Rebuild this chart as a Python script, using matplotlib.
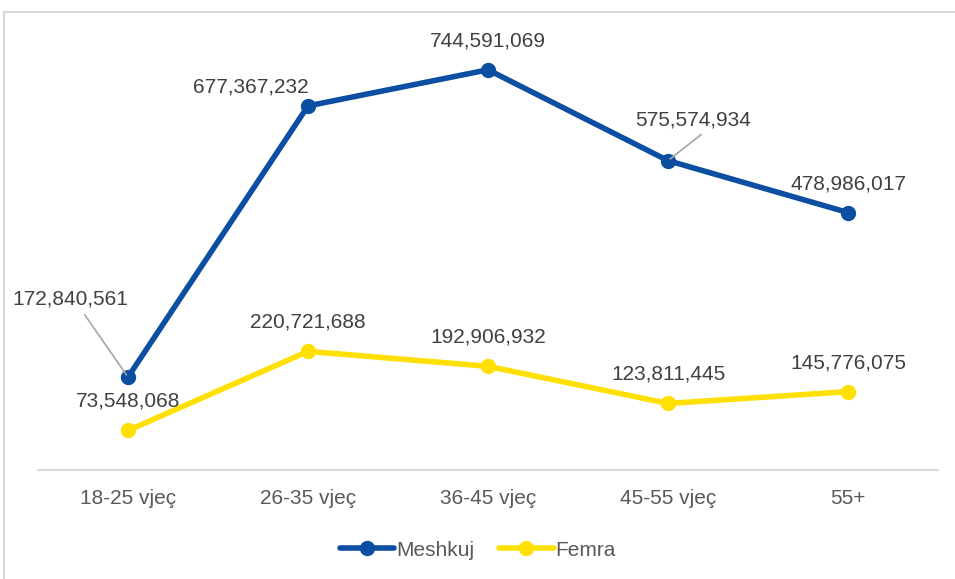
import matplotlib
matplotlib.use("Agg")
import matplotlib.pyplot as plt
from matplotlib.patches import Rectangle
from matplotlib.lines import Line2D

categories = ["18-25 vjeç", "26-35 vjeç", "36-45 vjeç", "45-55 vjeç", "55+"]
meshkuj = [172840561, 677367232, 744591069, 575574934, 478986017]
femra = [73548068, 220721688, 192906932, 123811445, 145776075]

blue = "#0B4EA2"
yellow = "#FFE000"
label_color = "#404040"
tick_color = "#595959"
fs = 15

plt.rcParams["font.family"] = ["Liberation Sans", "DejaVu Sans"]

W, H = 955, 579
fig = plt.figure(figsize=(W / 100, H / 100), dpi=100)
ax = fig.add_axes([38 / W, 1 - 470 / H, 900 / W, 430 / H])

x = list(range(len(categories)))
lw, ms = 4.0, 10
ax.plot(x, femra, color=yellow, lw=lw, marker="o", ms=ms, solid_capstyle="round", zorder=3)
ax.plot(x, meshkuj, color=blue, lw=lw, marker="o", ms=ms, solid_capstyle="round", zorder=4)

ax.set_xlim(-0.5, 4.5)
ax.set_ylim(0, 800e6)
ax.set_yticks([])
ax.set_xticks(x)
ax.set_xticklabels(categories, fontsize=fs, color=tick_color)
ax.tick_params(axis="x", length=0, pad=14)
for s in ["left", "right", "top"]:
    ax.spines[s].set_visible(False)
ax.spines["bottom"].set_color("#D9D9D9")
ax.spines["bottom"].set_linewidth(1.5)

blue_off = [(-58, 78), (-57, 19), (0, 29), (25, 41), (0, 29)]
leader = [(0.59, 0.0), None, None, (0.63, 0.0), None]
for i, (v, off) in enumerate(zip(meshkuj, blue_off)):
    kw = {}
    if leader[i] is not None:
        kw["arrowprops"] = dict(arrowstyle="-", color="#A6A6A6", lw=1.2, shrinkA=3, shrinkB=2,
                                relpos=leader[i])
    ax.annotate(f"{v:,}", (i, v), xytext=off, textcoords="offset pixels",
                ha="center", va="center", fontsize=fs, color=label_color, zorder=6, **kw)

for i, v in enumerate(femra):
    ax.annotate(f"{v:,}", (i, v), xytext=(0, 29), textcoords="offset pixels",
                ha="center", va="center", fontsize=fs, color=label_color, zorder=6)

handles = [
    Line2D([], [], color=blue, lw=lw, marker="o", ms=ms, solid_capstyle="round"),
    Line2D([], [], color=yellow, lw=lw, marker="o", ms=ms, solid_capstyle="round"),
]
fig.legend(handles, ["Meshkuj", "Femra"], loc="center", bbox_to_anchor=(478 / W, 1 - 550 / H),
           ncol=2, frameon=False, fontsize=fs, handlelength=2.6, handletextpad=0.1,
           columnspacing=1.2, labelcolor=tick_color)

fig.patches.append(Rectangle((4 / W, -0.1), 2, (1 - 12 / H) + 0.1, transform=fig.transFigure,
                             fill=False, ec="#D9D9D9", lw=1.5))

fig.savefig("out.png", dpi=100)
